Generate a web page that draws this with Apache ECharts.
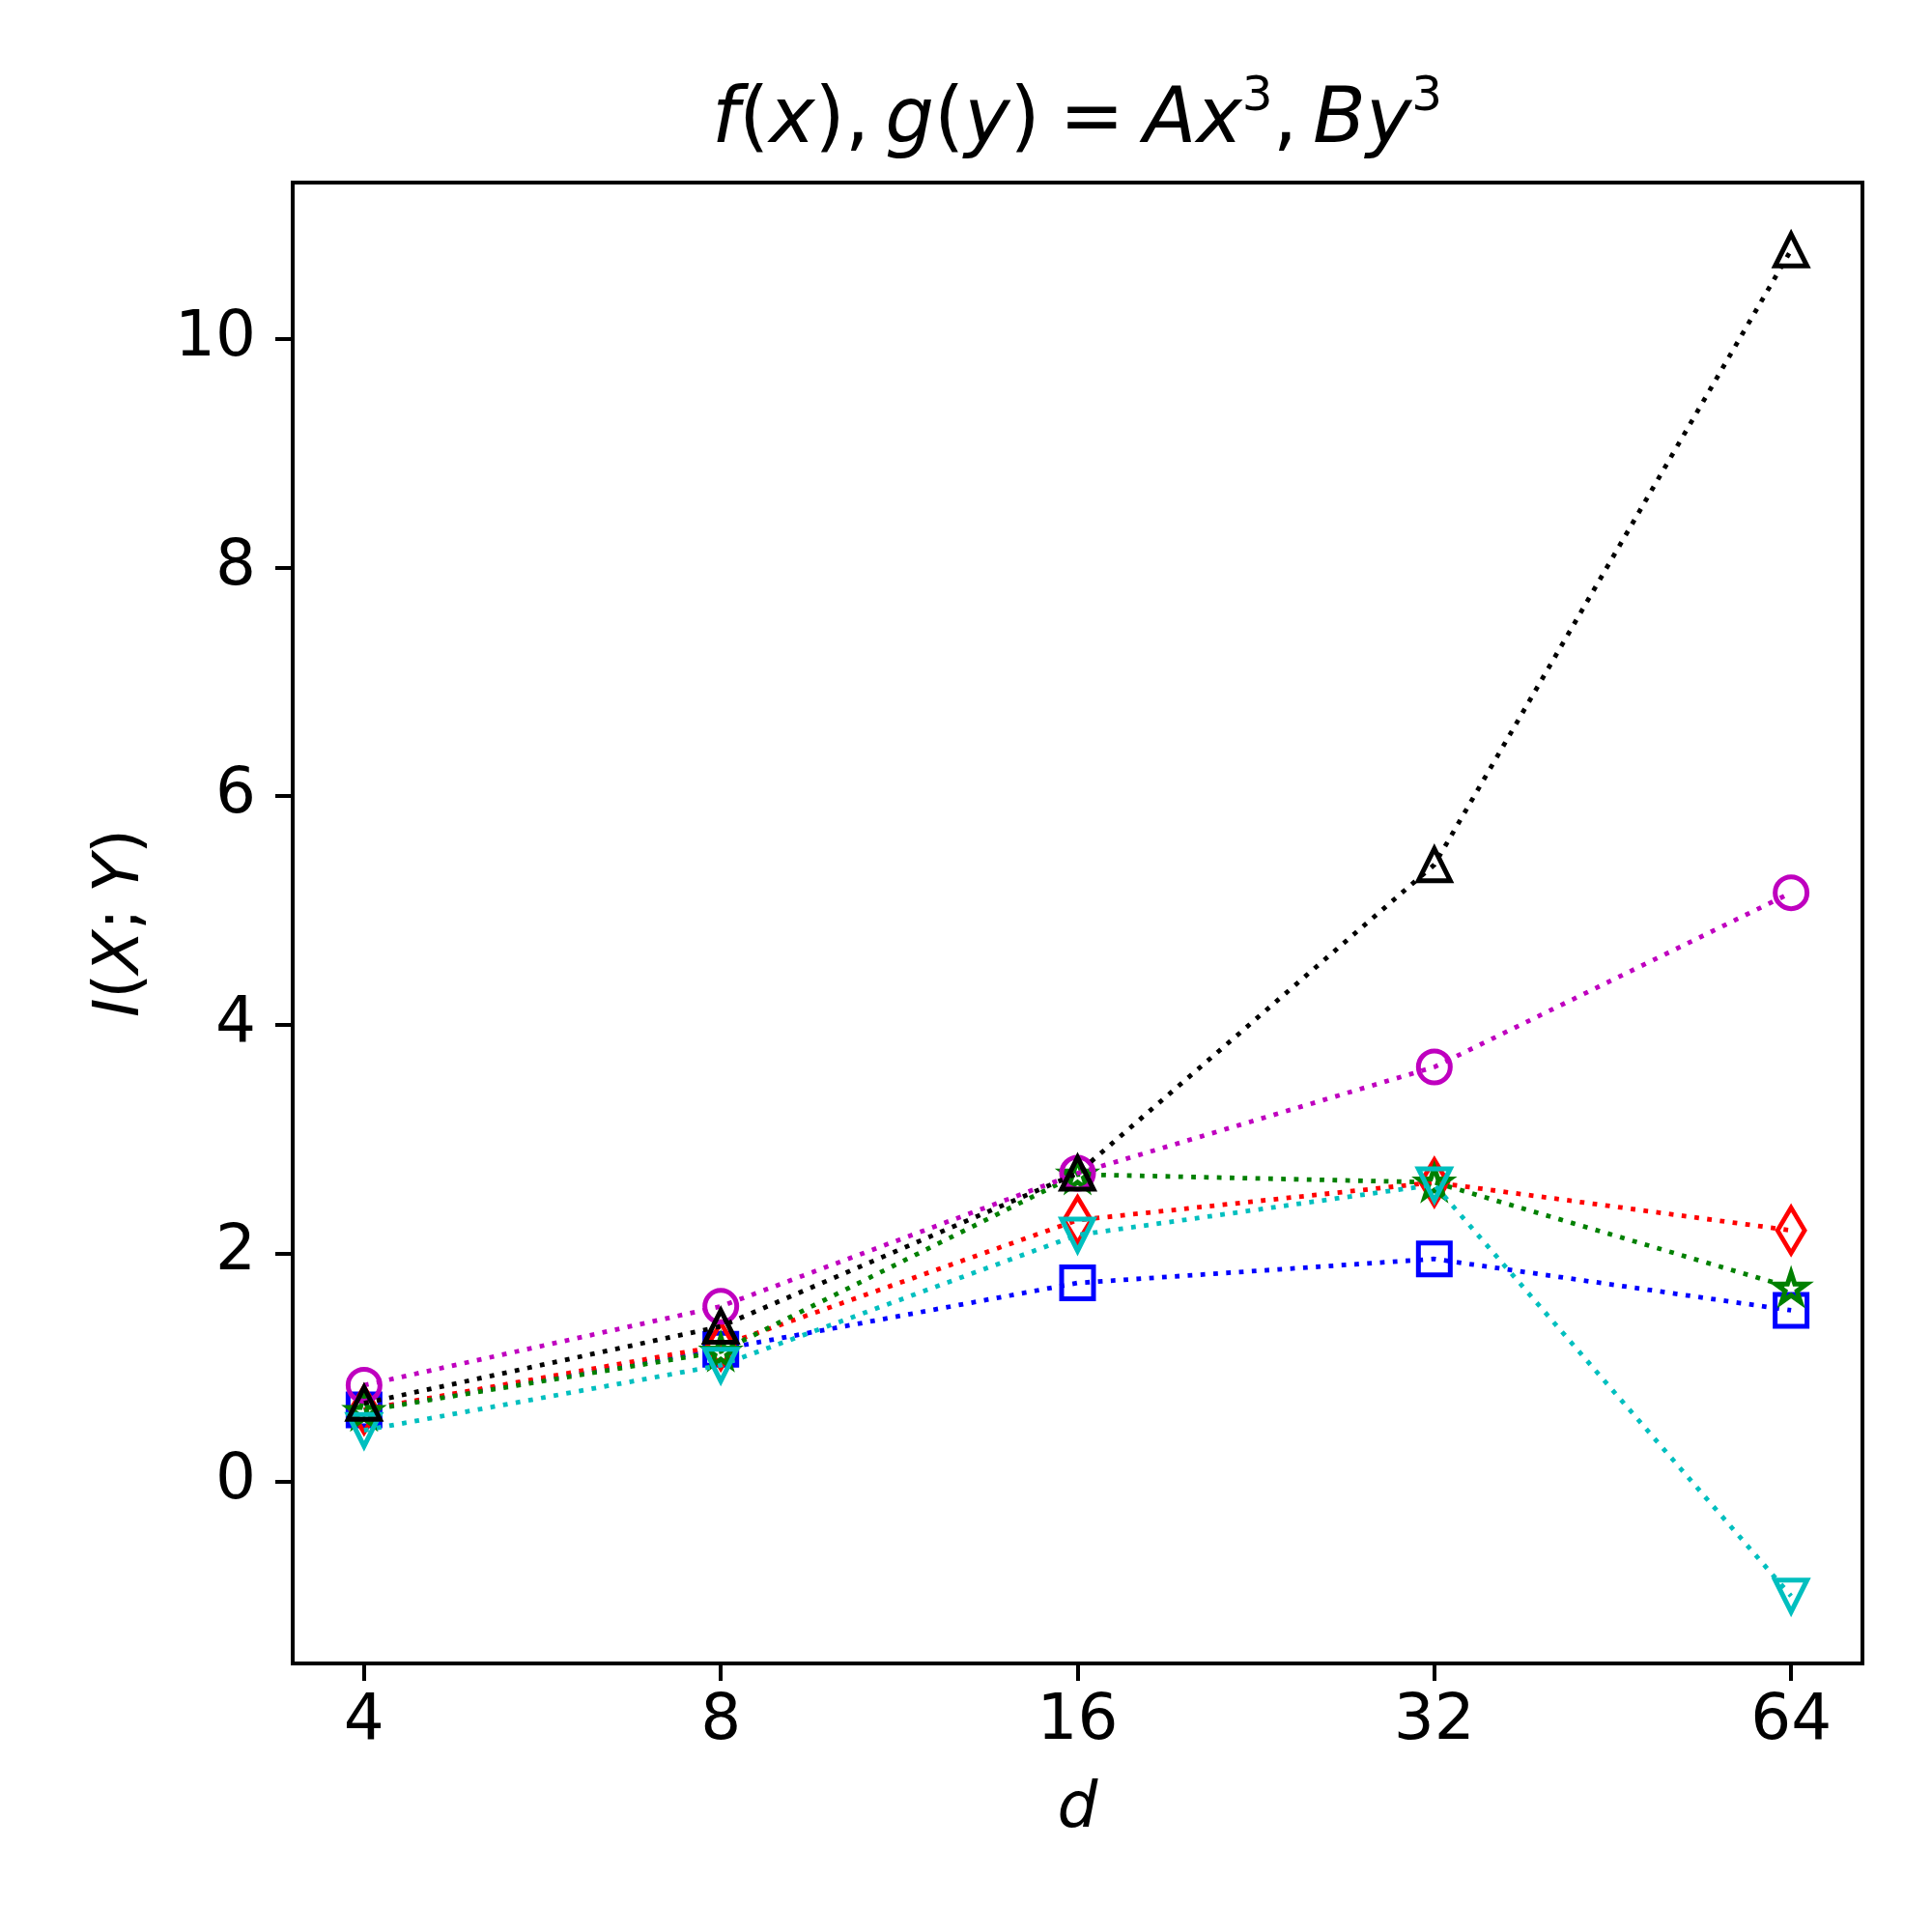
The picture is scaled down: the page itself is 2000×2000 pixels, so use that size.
<!DOCTYPE html>
<html>
<head>
<meta charset="utf-8">
<script src="https://cdn.jsdelivr.net/npm/echarts@6/dist/echarts.min.js"></script>
<style>
  html, body { margin: 0; padding: 0; background: #fff; }
  #chart { width: 2000px; height: 2000px; }
</style>
</head>
<body>
<div id="chart"></div>
<script>
// x categories (d) and y ticks
const dims = [4, 8, 16, 32, 64];
const yTicks = [0, 2, 4, 6, 8, 10];

// I(X;Y), one array per marker style
const blueSquare = [0.63, 1.16, 1.74, 1.95, 1.50];
const redDiamond = [0.63, 1.19, 2.29, 2.62, 2.20];
const greenStar = [0.62, 1.14, 2.69, 2.62, 1.70];
const cyanDown = [0.45, 1.02, 2.16, 2.60, -1.00];
const magentaCircle = [0.845, 1.535, 2.70, 3.63, 5.155];
const blackUp = [0.687, 1.36, 2.70, 5.40, 10.78];

const FONT = 'DejaVu Sans';
const STAR = 'path://M50 0 L61.23 34.55 L97.55 34.55 L68.16 55.9 L79.39 90.45 L50 69.1 L20.61 90.45 L31.84 55.9 L2.45 34.55 L38.77 34.55 Z';

const lines = [
  { values: blueSquare, color: '#0000ff', symbol: 'rect', size: 33 },
  { values: redDiamond, color: '#ff0000', symbol: 'diamond', size: [28, 47] },
  { values: greenStar, color: '#008000', symbol: STAR, size: 32 },
  { values: cyanDown, color: '#00bfbf', symbol: 'triangle', size: 33, rotate: 180 },
  { values: magentaCircle, color: '#bf00bf', symbol: 'circle', size: 33 },
  { values: blackUp, color: '#000000', symbol: 'triangle', size: 33 }
];

// mathtext-like rich styles: italic variables, upright punctuation, superscript
function richOf(size, lineHeight, supSize, supLine) {
  const base = { fontFamily: FONT, fontWeight: 'normal', color: '#000' };
  return {
    i: Object.assign({}, base, { fontStyle: 'italic', fontSize: size, lineHeight: lineHeight }),
    n: Object.assign({}, base, { fontSize: size, lineHeight: lineHeight }),
    s: Object.assign({}, base, { fontSize: supSize, lineHeight: supLine, verticalAlign: 'top' })
  };
}

const chart = echarts.init(document.getElementById('chart'));

const series = lines.map((l, idx) => ({
  type: 'line',
  z: 2 + idx,
  data: dims.map((d, i) => [d, l.values[i]]),
  symbol: l.symbol,
  symbolSize: l.size,
  symbolRotate: l.rotate || 0,
  symbolKeepAspect: l.symbol === STAR,
  showAllSymbol: true,
  lineStyle: { color: l.color, width: 4.8, type: [4.8, 8.5], cap: 'butt' },
  itemStyle: { color: 'rgba(0,0,0,0)', borderColor: l.color, borderWidth: 5 },
  emphasis: { disabled: true },
  animation: false
}));

const option = {
  backgroundColor: '#fff',
  animation: false,
  title: {
    text: '{i|f}{n|(}{i|x}{n|),\u2009}{i|g}{n|(}{i|y}{n|)\u2005=\u2005}{i|Ax}{s|3}{n|,\u2009}{i|By}{s|3}',
    left: 1115,
    top: 76,
    padding: 0,
    textAlign: 'center',
    textStyle: { fontSize: 80, fontWeight: 'normal', rich: richOf(80, 100, 50, 50) }
  },
  grid: {
    left: 303, right: 72, top: 189, bottom: 278,
    show: true, borderColor: '#000', borderWidth: 4,
    containLabel: false, outerBoundsMode: 'none'
  },
  xAxis: {
    type: 'log',
    logBase: 2,
    min: Math.pow(2, 1.8),
    max: Math.pow(2, 6.2),
    axisLine: { onZero: false, lineStyle: { color: '#000', width: 4 } },
    axisTick: { length: 18, customValues: dims, lineStyle: { color: '#000', width: 4 } },
    axisLabel: {
      customValues: dims, fontSize: 66, fontFamily: FONT, color: '#000', margin: 28,
      formatter: v => String(Math.round(v))
    },
    minorTick: { show: false },
    splitLine: { show: false },
    name: '{i|d}',
    nameLocation: 'middle',
    nameGap: 112,
    nameTextStyle: { fontSize: 66, rich: richOf(66, 80, 40, 50) }
  },
  yAxis: {
    type: 'value',
    min: -1.59,
    max: 11.37,
    axisLine: { onZero: false, lineStyle: { color: '#000', width: 4 } },
    axisTick: { length: 18, customValues: yTicks, lineStyle: { color: '#000', width: 4 } },
    axisLabel: { customValues: yTicks, fontSize: 66, fontFamily: FONT, color: '#000', margin: 38 },
    splitLine: { show: false },
    name: '{i|I}{n|(}{i|X}{n|;\u2005}{i|Y}{n|)}',
    nameLocation: 'middle',
    nameRotate: 90,
    nameGap: 137,
    nameTextStyle: { fontSize: 66, rich: richOf(66, 80, 40, 50) }
  },
  series: series
};

chart.setOption(option);
</script>
</body>
</html>
